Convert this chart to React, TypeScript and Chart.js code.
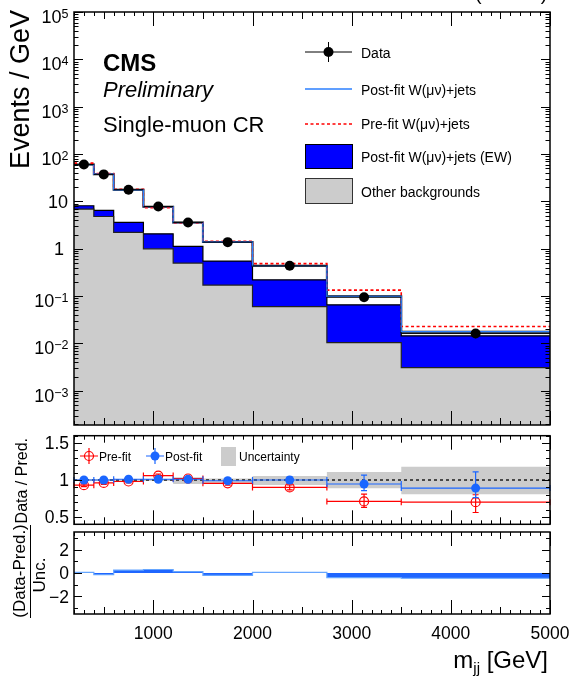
import React, { useEffect, useRef } from "react";
import { Chart, registerables } from "chart.js";
Chart.register(...registerables);

const FONT = "'Liberation Sans', Arial, Helvetica, sans-serif";

// ---------------- data ----------------
const binEdges = [200, 400, 600, 900, 1200, 1500, 2000, 2750, 3500, 5000];
const dataEvents = [60, 37.2, 17.7, 7.8, 3.6, 1.38, 0.437, 0.095, 0.0162];
const dataErr = [0.55, 0.43, 0.24, 0.16, 0.11, 0.05, 0.024, 0.008, 0.0033];
const otherBkg = [6.9, 4.8, 2.21, 1.0, 0.5, 0.171, 0.06, 0.0104, 0.0031];
const ewW = [1.2, 1.65, 1.39, 1.07, 0.62, 0.379, 0.161, 0.0551, 0.0114];
const postFitTotal = [60, 37.5, 17.6, 7.75, 3.58, 1.39, 0.44, 0.099, 0.0178];
const preFitTotal = [64.5, 38.8, 18.1, 7.36, 3.53, 1.445, 0.486, 0.134, 0.0228];

const ratioPre = [0.93, 0.96, 0.98, 1.06, 1.02, 0.955, 0.9, 0.71, 0.7];
const ratioPreErrLo = [0.02, 0.02, 0.02, 0.02, 0.02, 0.025, 0.035, 0.08, 0.14];
const ratioPreErrHi = [0.02, 0.02, 0.02, 0.02, 0.02, 0.025, 0.035, 0.1, 0.1];
const ratioPost = [1.0, 1.0, 1.01, 1.01, 1.01, 0.99, 1.0, 0.946, 0.89];
const ratioPostErrLo = [0.02, 0.02, 0.02, 0.02, 0.02, 0.025, 0.035, 0.09, 0.13];
const ratioPostErrHi = [0.02, 0.02, 0.02, 0.02, 0.02, 0.025, 0.04, 0.12, 0.22];
const uncUp = [1.012, 1.012, 1.012, 1.015, 1.036, 1.022, 1.054, 1.11, 1.18];
const uncDown = [0.988, 0.988, 0.988, 0.985, 0.946, 0.955, 0.933, 0.888, 0.808];
const pulls = [0.05, -0.15, 0.25, 0.3, 0.12, -0.2, 0.05, -0.4, -0.45];

const xTickLabels = [1000, 2000, 3000, 4000, 5000];
const logDecades = [-3, -2, -1, 0, 1, 2, 3, 4, 5];
const ratioTickLabels = [0.5, 1, 1.5];
const pullTickLabels = [-2, 0, 2];

// ---------------- colours ----------------
const GREY = "#cccccc";
const EWBLUE = "#0000ff";
const POSTBLUE = "#2b7fff";
const MARKBLUE = "#1a66ff";
const RED = "#ff0000";

const PULL_TOP = 520;

const centers = dataEvents.map((_, i) => (binEdges[i] + binEdges[i + 1]) / 2);
const stepPts = (vals: number[]) =>
  binEdges.map((x, i) => ({ x, y: vals[Math.min(i, vals.length - 1)] }));

const baseOptions = (padding: any, yScale: any) => ({
  responsive: false,
  animation: false,
  events: [],
  layout: { padding },
  plugins: {
    legend: { display: false },
    tooltip: { enabled: false },
    filler: { propagate: false },
  },
  scales: {
    x: { type: "linear", min: 200, max: 5000, display: false },
    y: { ...yScale, display: false },
  },
  elements: { line: { tension: 0 }, point: { radius: 0 } },
});

function drawFrame(ctx: CanvasRenderingContext2D, a: any) {
  ctx.save();
  ctx.strokeStyle = "#000";
  ctx.lineWidth = 1.5;
  ctx.strokeRect(a.left, a.top, a.right - a.left, a.bottom - a.top);
  ctx.restore();
}

function drawXTicks(chart: any) {
  const ctx = chart.ctx;
  const xs = chart.scales.x;
  const { top, bottom } = chart.chartArea;
  ctx.save();
  ctx.strokeStyle = "#000";
  ctx.lineWidth = 1;
  ctx.beginPath();
  for (let v = xs.min; v <= xs.max; v += 100) {
    const px = Math.round(xs.getPixelForValue(v)) + 0.5;
    const len = v % 1000 === 0 ? 14 : v % 500 === 0 ? 7 : 4;
    ctx.moveTo(px, bottom);
    ctx.lineTo(px, bottom - len);
    ctx.moveTo(px, top);
    ctx.lineTo(px, top + len);
  }
  ctx.stroke();
  ctx.restore();
}

function drawLinYTicks(chart: any, majors: number[], minorStep: number, majorLen: number, minorLen: number) {
  const ctx = chart.ctx;
  const ys = chart.scales.y;
  const { left, right } = chart.chartArea;
  ctx.save();
  ctx.strokeStyle = "#000";
  ctx.lineWidth = 1;
  ctx.beginPath();
  const n = Math.round((ys.max - ys.min) / minorStep);
  const start = Math.ceil(ys.min / minorStep - 1e-6) * minorStep;
  for (let k = 0; k <= n + 1; k++) {
    const v = start + k * minorStep;
    if (v > ys.max + 1e-9) break;
    const isMajor = majors.some((m) => Math.abs(m - v) < 1e-6);
    const len = isMajor ? majorLen : minorLen;
    const py = Math.round(ys.getPixelForValue(v)) + 0.5;
    ctx.moveTo(left, py);
    ctx.lineTo(left + len, py);
    ctx.moveTo(right, py);
    ctx.lineTo(right - len, py);
  }
  ctx.stroke();
  ctx.restore();
}

function drawYLabels(chart: any, labels: number[], fmt: (v: number) => string) {
  const ctx = chart.ctx;
  const ys = chart.scales.y;
  ctx.save();
  ctx.fillStyle = "#000";
  ctx.font = `17.5px ${FONT}`;
  ctx.textAlign = "right";
  ctx.textBaseline = "alphabetic";
  labels.forEach((v) => {
    ctx.fillText(fmt(v), 69, ys.getPixelForValue(v) + 6.3);
  });
  ctx.restore();
}

function drawErrorBars(chart: any, vals: number[], lo: number[], hi: number[], color: string) {
  const ctx = chart.ctx;
  const xs = chart.scales.x;
  const ys = chart.scales.y;
  ctx.save();
  ctx.strokeStyle = color;
  ctx.lineWidth = 1.2;
  ctx.beginPath();
  vals.forEach((v, i) => {
    const y = ys.getPixelForValue(v);
    const x0 = xs.getPixelForValue(binEdges[i]);
    const x1 = xs.getPixelForValue(binEdges[i + 1]);
    ctx.moveTo(x0, y);
    ctx.lineTo(x1, y);
    ctx.moveTo(x0, y - 3);
    ctx.lineTo(x0, y + 3);
    ctx.moveTo(x1, y - 3);
    ctx.lineTo(x1, y + 3);
    const xc = xs.getPixelForValue(centers[i]);
    const yt = ys.getPixelForValue(v + hi[i]);
    const yb = ys.getPixelForValue(v - lo[i]);
    ctx.moveTo(xc, yt);
    ctx.lineTo(xc, yb);
    ctx.moveTo(xc - 3, yt);
    ctx.lineTo(xc + 3, yt);
    ctx.moveTo(xc - 3, yb);
    ctx.lineTo(xc + 3, yb);
  });
  ctx.stroke();
  ctx.restore();
}

// ---------------- main panel ----------------
const mainPlugin = {
  id: "mainDecor",
  beforeDatasetDraw(chart: any, args: any) {
    if (args.index !== 5) return;
    const ctx = chart.ctx;
    const xs = chart.scales.x;
    const ys = chart.scales.y;
    ctx.save();
    ctx.strokeStyle = "#000";
    ctx.lineWidth = 1;
    ctx.beginPath();
    dataEvents.forEach((v, i) => {
      const y = ys.getPixelForValue(v);
      ctx.moveTo(xs.getPixelForValue(binEdges[i]), y);
      ctx.lineTo(xs.getPixelForValue(binEdges[i + 1]), y);
      const xc = xs.getPixelForValue(centers[i]);
      ctx.moveTo(xc, ys.getPixelForValue(v + dataErr[i]));
      ctx.lineTo(xc, ys.getPixelForValue(v - dataErr[i]));
    });
    ctx.stroke();
    ctx.restore();
  },
  afterDraw(chart: any) {
    const ctx = chart.ctx;
    const a = chart.chartArea;
    const ys = chart.scales.y;
    drawFrame(ctx, a);
    drawXTicks(chart);
    // log ticks
    ctx.save();
    ctx.strokeStyle = "#000";
    ctx.lineWidth = 1;
    ctx.beginPath();
    for (let d = -4; d <= 5; d++) {
      for (let k = 1; k <= 9; k++) {
        const v = k * Math.pow(10, d);
        if (v < ys.min || v > ys.max * 1.0001) continue;
        const py = Math.round(ys.getPixelForValue(v)) + 0.5;
        const len = k === 1 ? 9 : 4.5;
        ctx.moveTo(a.left, py);
        ctx.lineTo(a.left + len, py);
        ctx.moveTo(a.right, py);
        ctx.lineTo(a.right - len, py);
      }
    }
    ctx.stroke();
    ctx.restore();

    // log labels
    ctx.save();
    ctx.fillStyle = "#000";
    ctx.textBaseline = "alphabetic";
    logDecades.forEach((d) => {
      const y = ys.getPixelForValue(Math.pow(10, d));
      ctx.font = `18px ${FONT}`;
      ctx.textAlign = "right";
      if (d === 0) {
        ctx.fillText("1", 64, y + 6.5);
      } else if (d === 1) {
        ctx.fillText("10", 68, y + 6.5);
      } else {
        const exp = d < 0 ? "\u2212" + -d : String(d);
        ctx.font = `12.5px ${FONT}`;
        const ew = ctx.measureText(exp).width;
        ctx.textAlign = "left";
        ctx.fillText(exp, 68.5 - ew, y + 6);
        ctx.font = `18px ${FONT}`;
        ctx.textAlign = "right";
        ctx.fillText("10", 68.5 - ew, y + 11);
      }
    });
    ctx.restore();

    // y title
    ctx.save();
    ctx.fillStyle = "#000";
    ctx.font = `27px ${FONT}`;
    ctx.translate(29, 10);
    ctx.rotate(-Math.PI / 2);
    ctx.textAlign = "right";
    ctx.textBaseline = "alphabetic";
    ctx.fillText("Events / GeV", 0, 0);
    ctx.restore();

    // luminosity label (cut off at the top)
    ctx.save();
    ctx.fillStyle = "#000";
    ctx.font = `19px ${FONT}`;
    ctx.textAlign = "right";
    ctx.textBaseline = "alphabetic";
    ctx.fillText("35.9 fb\u207B\u00B9 (13 TeV)", 547, -0.5);
    ctx.restore();

    // CMS texts
    ctx.save();
    ctx.fillStyle = "#000";
    ctx.textAlign = "left";
    ctx.textBaseline = "alphabetic";
    ctx.font = `bold 24px ${FONT}`;
    ctx.fillText("CMS", 103, 71);
    ctx.font = `italic 22px ${FONT}`;
    ctx.fillText("Preliminary", 103, 97);
    ctx.font = `22px ${FONT}`;
    ctx.fillText("Single-muon CR", 103, 132);
    ctx.restore();

    // legend
    ctx.save();
    const lx0 = 305, lx1 = 352, lxc = 328.5, tx = 361;
    ctx.strokeStyle = "#000";
    ctx.lineWidth = 1;
    ctx.beginPath();
    ctx.moveTo(lx0, 52);
    ctx.lineTo(lx1, 52);
    ctx.moveTo(lxc, 42);
    ctx.lineTo(lxc, 62);
    ctx.stroke();
    ctx.fillStyle = "#000";
    ctx.beginPath();
    ctx.arc(lxc, 52, 5, 0, Math.PI * 2);
    ctx.fill();
    ctx.strokeStyle = POSTBLUE;
    ctx.lineWidth = 1.6;
    ctx.beginPath();
    ctx.moveTo(lx0, 89);
    ctx.lineTo(lx1, 89);
    ctx.stroke();
    ctx.strokeStyle = RED;
    ctx.setLineDash([3, 2.5]);
    ctx.beginPath();
    ctx.moveTo(lx0, 124);
    ctx.lineTo(lx1, 124);
    ctx.stroke();
    ctx.setLineDash([]);
    ctx.lineWidth = 1;
    ctx.strokeStyle = "#000";
    ctx.fillStyle = EWBLUE;
    ctx.fillRect(lx0, 144, lx1 - lx0, 24);
    ctx.strokeRect(lx0 + 0.5, 144.5, lx1 - lx0, 24);
    ctx.fillStyle = GREY;
    ctx.fillRect(lx0, 178, lx1 - lx0, 25);
    ctx.strokeStyle = "#333";
    ctx.strokeRect(lx0 + 0.5, 178.5, lx1 - lx0, 25);
    ctx.fillStyle = "#000";
    ctx.font = `14px ${FONT}`;
    ctx.textAlign = "left";
    ctx.textBaseline = "alphabetic";
    ctx.fillText("Data", tx, 58);
    ctx.fillText("Post-fit W(\u03BC\u03BD)+jets", tx, 95);
    ctx.fillText("Pre-fit W(\u03BC\u03BD)+jets", tx, 129);
    ctx.fillText("Post-fit W(\u03BC\u03BD)+jets (EW)", tx, 162);
    ctx.fillText("Other backgrounds", tx, 197);
    ctx.restore();
  },
};

function mainConfig(): any {
  const ewTop = otherBkg.map((v, i) => v + ewW[i]);
  return {
    type: "line",
    data: {
      datasets: [
        {
          data: stepPts(ewTop),
          stepped: true,
          fill: "start",
          backgroundColor: EWBLUE,
          borderColor: "#000",
          borderWidth: 1.2,
          order: 10,
        },
        {
          data: stepPts(otherBkg),
          stepped: true,
          fill: "start",
          backgroundColor: GREY,
          borderColor: "#222",
          borderWidth: 1.2,
          order: 9,
        },
        {
          data: stepPts(postFitTotal),
          stepped: true,
          fill: false,
          borderColor: "#000",
          borderWidth: 2,
          order: 8,
        },
        {
          data: stepPts(preFitTotal),
          stepped: true,
          fill: false,
          borderColor: RED,
          borderWidth: 1.6,
          borderDash: [3, 2.5],
          order: 7,
        },
        {
          data: stepPts(postFitTotal),
          stepped: true,
          fill: false,
          borderColor: POSTBLUE,
          borderWidth: 1.3,
          order: 6,
        },
        {
          data: dataEvents.map((y, i) => ({ x: centers[i], y })),
          showLine: false,
          pointRadius: 5,
          pointBackgroundColor: "#000",
          pointBorderColor: "#000",
          pointBorderWidth: 0,
          order: 1,
        },
      ],
    },
    options: baseOptions(
      { left: 74, right: 23, top: 12, bottom: 5 },
      { type: "logarithmic", min: 1.9e-4, max: 1e5 }
    ),
    plugins: [mainPlugin],
  };
}

// ---------------- ratio panel ----------------
const ratioPlugin = {
  id: "ratioDecor",
  beforeDatasetDraw(chart: any, args: any) {
    if (args.index === 3) drawErrorBars(chart, ratioPre, ratioPreErrLo, ratioPreErrHi, RED);
    if (args.index === 4) drawErrorBars(chart, ratioPost, ratioPostErrLo, ratioPostErrHi, MARKBLUE);
  },
  afterDraw(chart: any) {
    const ctx = chart.ctx;
    const a = chart.chartArea;
    drawFrame(ctx, a);
    drawXTicks(chart);
    drawLinYTicks(chart, ratioTickLabels, 0.1, 8, 4);
    drawYLabels(chart, ratioTickLabels, (v) => String(v));

    // y title
    ctx.save();
    ctx.fillStyle = "#000";
    ctx.font = `16px ${FONT}`;
    ctx.translate(27, 438 - 430);
    ctx.rotate(-Math.PI / 2);
    ctx.textAlign = "right";
    ctx.textBaseline = "alphabetic";
    ctx.fillText("Data / Pred.", 0, 0);
    ctx.restore();

    // legend
    const ly = 456 - 430;
    ctx.save();
    ctx.lineWidth = 1.2;
    ctx.strokeStyle = RED;
    ctx.beginPath();
    ctx.moveTo(80, ly);
    ctx.lineTo(98, ly);
    ctx.moveTo(89, ly - 8);
    ctx.lineTo(89, ly + 8);
    ctx.stroke();
    ctx.beginPath();
    ctx.arc(89, ly, 4.5, 0, Math.PI * 2);
    ctx.stroke();
    ctx.strokeStyle = MARKBLUE;
    ctx.beginPath();
    ctx.moveTo(146, ly);
    ctx.lineTo(164, ly);
    ctx.moveTo(155, ly - 8);
    ctx.lineTo(155, ly + 8);
    ctx.stroke();
    ctx.fillStyle = MARKBLUE;
    ctx.beginPath();
    ctx.arc(155, ly, 4.5, 0, Math.PI * 2);
    ctx.fill();
    ctx.fillStyle = GREY;
    ctx.fillRect(221, 447 - 430, 15, 19);
    ctx.fillStyle = "#000";
    ctx.font = `12px ${FONT}`;
    ctx.textAlign = "left";
    ctx.textBaseline = "alphabetic";
    ctx.fillText("Pre-fit", 99, ly + 4.5);
    ctx.fillText("Post-fit", 165, ly + 4.5);
    ctx.fillText("Uncertainty", 239, ly + 4.5);
    ctx.restore();
  },
};

function ratioConfig(): any {
  return {
    type: "line",
    data: {
      datasets: [
        {
          data: stepPts(uncUp),
          stepped: true,
          fill: "+1",
          backgroundColor: GREY,
          borderWidth: 0,
          borderColor: "rgba(0,0,0,0)",
          order: 10,
        },
        {
          data: stepPts(uncDown),
          stepped: true,
          fill: false,
          borderWidth: 0,
          borderColor: "rgba(0,0,0,0)",
          order: 9,
        },
        {
          data: [
            { x: binEdges[0], y: 1 },
            { x: binEdges[binEdges.length - 1], y: 1 },
          ],
          fill: false,
          borderColor: "#000",
          borderWidth: 1.3,
          borderDash: [3, 3],
          order: 8,
        },
        {
          data: ratioPre.map((y, i) => ({ x: centers[i], y })),
          showLine: false,
          pointRadius: 4.5,
          pointBackgroundColor: "rgba(0,0,0,0)",
          pointBorderColor: RED,
          pointBorderWidth: 1.2,
          order: 5,
        },
        {
          data: ratioPost.map((y, i) => ({ x: centers[i], y })),
          showLine: false,
          pointRadius: 4.5,
          pointBackgroundColor: MARKBLUE,
          pointBorderColor: MARKBLUE,
          pointBorderWidth: 0,
          order: 4,
        },
      ],
    },
    options: baseOptions(
      { left: 74, right: 23, top: 2, bottom: 5 },
      { type: "linear", min: 0.4, max: 1.6 }
    ),
    plugins: [ratioPlugin],
  };
}

// ---------------- pull panel ----------------
const pullPlugin = {
  id: "pullDecor",
  afterDraw(chart: any) {
    const ctx = chart.ctx;
    const a = chart.chartArea;
    const xs = chart.scales.x;
    drawFrame(ctx, a);
    drawXTicks(chart);
    drawLinYTicks(chart, pullTickLabels, 1, 8, 4);
    drawYLabels(chart, pullTickLabels, (v) => (v < 0 ? "\u2212" + -v : String(v)));

    // x labels
    ctx.save();
    ctx.fillStyle = "#000";
    ctx.font = `17.5px ${FONT}`;
    ctx.textAlign = "center";
    ctx.textBaseline = "alphabetic";
    xTickLabels.forEach((v) => {
      ctx.fillText(String(v), xs.getPixelForValue(v), 639 - PULL_TOP);
    });
    // x title m_jj [GeV]
    const base = 668 - PULL_TOP;
    ctx.font = `24px ${FONT}`;
    const w1 = ctx.measureText(" [GeV]").width;
    ctx.font = `15px ${FONT}`;
    const w2 = ctx.measureText("jj").width;
    ctx.textAlign = "right";
    ctx.font = `24px ${FONT}`;
    ctx.fillText(" [GeV]", 548, base);
    ctx.font = `15px ${FONT}`;
    ctx.fillText("jj", 548 - w1, base + 5);
    ctx.font = `24px ${FONT}`;
    ctx.fillText("m", 548 - w1 - w2, base);
    ctx.restore();

    // y title as fraction
    ctx.save();
    ctx.fillStyle = "#000";
    ctx.font = `17px ${FONT}`;
    ctx.textAlign = "center";
    ctx.textBaseline = "alphabetic";
    ctx.save();
    ctx.translate(25, 571 - PULL_TOP);
    ctx.rotate(-Math.PI / 2);
    ctx.fillText("(Data-Pred.)", 0, 0);
    ctx.restore();
    ctx.save();
    ctx.translate(45, 575 - PULL_TOP);
    ctx.rotate(-Math.PI / 2);
    ctx.fillText("Unc.", 0, 0);
    ctx.restore();
    ctx.strokeStyle = "#000";
    ctx.lineWidth = 1;
    ctx.beginPath();
    ctx.moveTo(30.5, 525 - PULL_TOP);
    ctx.lineTo(30.5, 618 - PULL_TOP);
    ctx.stroke();
    ctx.restore();
  },
};

function pullConfig(): any {
  return {
    type: "line",
    data: {
      datasets: [
        {
          data: stepPts(pulls),
          stepped: true,
          fill: "origin",
          backgroundColor: "#1f66ff",
          borderColor: "#66a6ff",
          borderWidth: 1.2,
          order: 1,
        },
      ],
    },
    options: baseOptions(
      { left: 74, right: 23, top: 532 - PULL_TOP, bottom: 682 - 614 },
      { type: "linear", min: -3.5, max: 3.5 }
    ),
    plugins: [pullPlugin],
  };
}

export default function App() {
  const mainRef = useRef<HTMLCanvasElement>(null);
  const ratioRef = useRef<HTMLCanvasElement>(null);
  const pullRef = useRef<HTMLCanvasElement>(null);

  useEffect(() => {
    const charts = [
      new Chart(mainRef.current as HTMLCanvasElement, mainConfig()),
      new Chart(ratioRef.current as HTMLCanvasElement, ratioConfig()),
      new Chart(pullRef.current as HTMLCanvasElement, pullConfig()),
    ];
    return () => charts.forEach((c) => c.destroy());
  }, []);

  return (
    <div
      style={{
        position: "absolute",
        left: 0,
        top: 0,
        width: 573,
        height: 682,
        background: "#fff",
        overflow: "hidden",
      }}
    >
      <canvas
        ref={mainRef}
        width={573}
        height={430}
        style={{ position: "absolute", left: 0, top: 0, width: 573, height: 430 }}
      />
      <canvas
        ref={ratioRef}
        width={573}
        height={100}
        style={{ position: "absolute", left: 0, top: 430, width: 573, height: 100 }}
      />
      <canvas
        ref={pullRef}
        width={573}
        height={682 - PULL_TOP}
        style={{ position: "absolute", left: 0, top: PULL_TOP, width: 573, height: 682 - PULL_TOP }}
      />
    </div>
  );
}
